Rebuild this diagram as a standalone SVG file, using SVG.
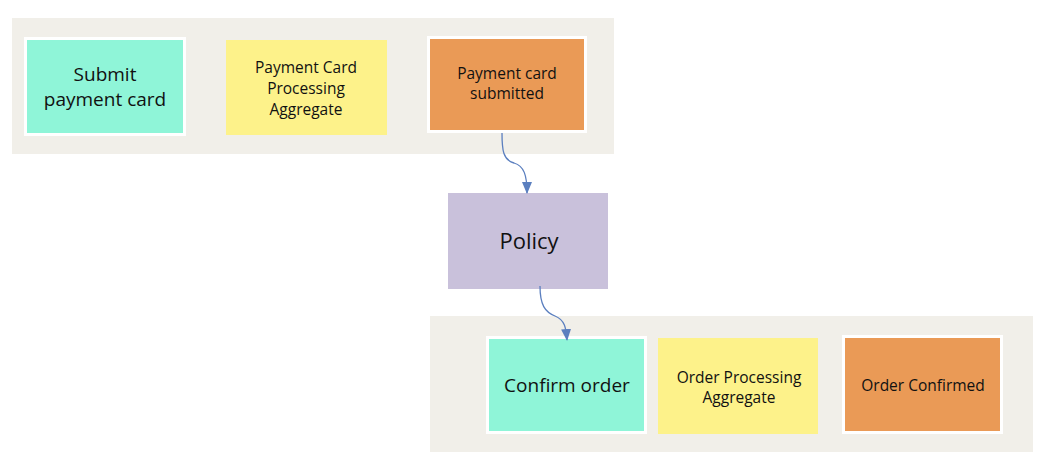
<svg xmlns="http://www.w3.org/2000/svg" width="1052" height="464" viewBox="0 0 1052 464">
<defs>
<style>
.panel{fill:#f1efe9}
.frame{fill:#ffffff}
.cmd{fill:#8ff5d8}
.agg{fill:#fdf28a}
.evt{fill:#ea9a56}
.pol{fill:#c9c1db}
text{font-family:"Open Sans","Liberation Sans",sans-serif;fill:#111;text-anchor:middle}
.lg{font-size:19px}
.sm{font-size:15.5px}
.xl{font-size:22px}
.conn{fill:none;stroke:#5b7fbf;stroke-width:1.3;marker-end:url(#arr)}
</style>
<marker id="arr" viewBox="0 0 12 10" refX="11" refY="5" markerWidth="12" markerHeight="10" orient="auto" markerUnits="userSpaceOnUse">
<path d="M0,0 L12,5 L0,10 z" fill="#5b7fbf"/>
</marker>
</defs>
<rect width="1052" height="464" fill="#ffffff"/>
<rect class="panel" x="12" y="18" width="602" height="136"/>
<rect class="panel" x="430" y="316" width="603" height="136"/>
<g id="submit-payment-card">
<rect class="frame" x="24" y="37" width="162" height="99"/>
<rect class="cmd" x="27" y="40" width="156" height="93"/>
<text class="lg" x="105" y="81">Submit</text>
<text class="lg" x="105" y="106">payment card</text>
</g>
<g id="payment-card-processing-aggregate">
<rect class="agg" x="226" y="40" width="161" height="95"/>
<text class="sm" x="306" y="73">Payment Card</text>
<text class="sm" x="306" y="94">Processing</text>
<text class="sm" x="306" y="115">Aggregate</text>
</g>
<g id="payment-card-submitted">
<rect class="frame" x="427" y="36" width="160" height="97"/>
<rect class="evt" x="430" y="39" width="154" height="91"/>
<text class="sm" x="507" y="79">Payment card</text>
<text class="sm" x="507" y="99">submitted</text>
</g>
<g id="policy">
<rect class="pol" x="448" y="193" width="160" height="96"/>
<text class="xl" x="529" y="249">Policy</text>
</g>
<g id="confirm-order">
<rect class="frame" x="486" y="336" width="161" height="98"/>
<rect class="cmd" x="489" y="339" width="155" height="92"/>
<text class="lg" x="567" y="392">Confirm order</text>
</g>
<g id="order-processing-aggregate">
<rect class="agg" x="658" y="338" width="160" height="96"/>
<text class="sm" x="739" y="383">Order Processing</text>
<text class="sm" x="739" y="403">Aggregate</text>
</g>
<g id="order-confirmed">
<rect class="frame" x="842" y="335" width="161" height="99"/>
<rect class="evt" x="845" y="338" width="155" height="93"/>
<text class="sm" x="923" y="391">Order Confirmed</text>
</g>
<g id="connectors">
<path class="conn" d="M502,133 C502,150 503,160 514,163 C524,166 527,175 527,193"/>
<path class="conn" d="M540,286 C540,305 545,312 555,316 C565,320 566,328 567,340"/>
</g>
</svg>
